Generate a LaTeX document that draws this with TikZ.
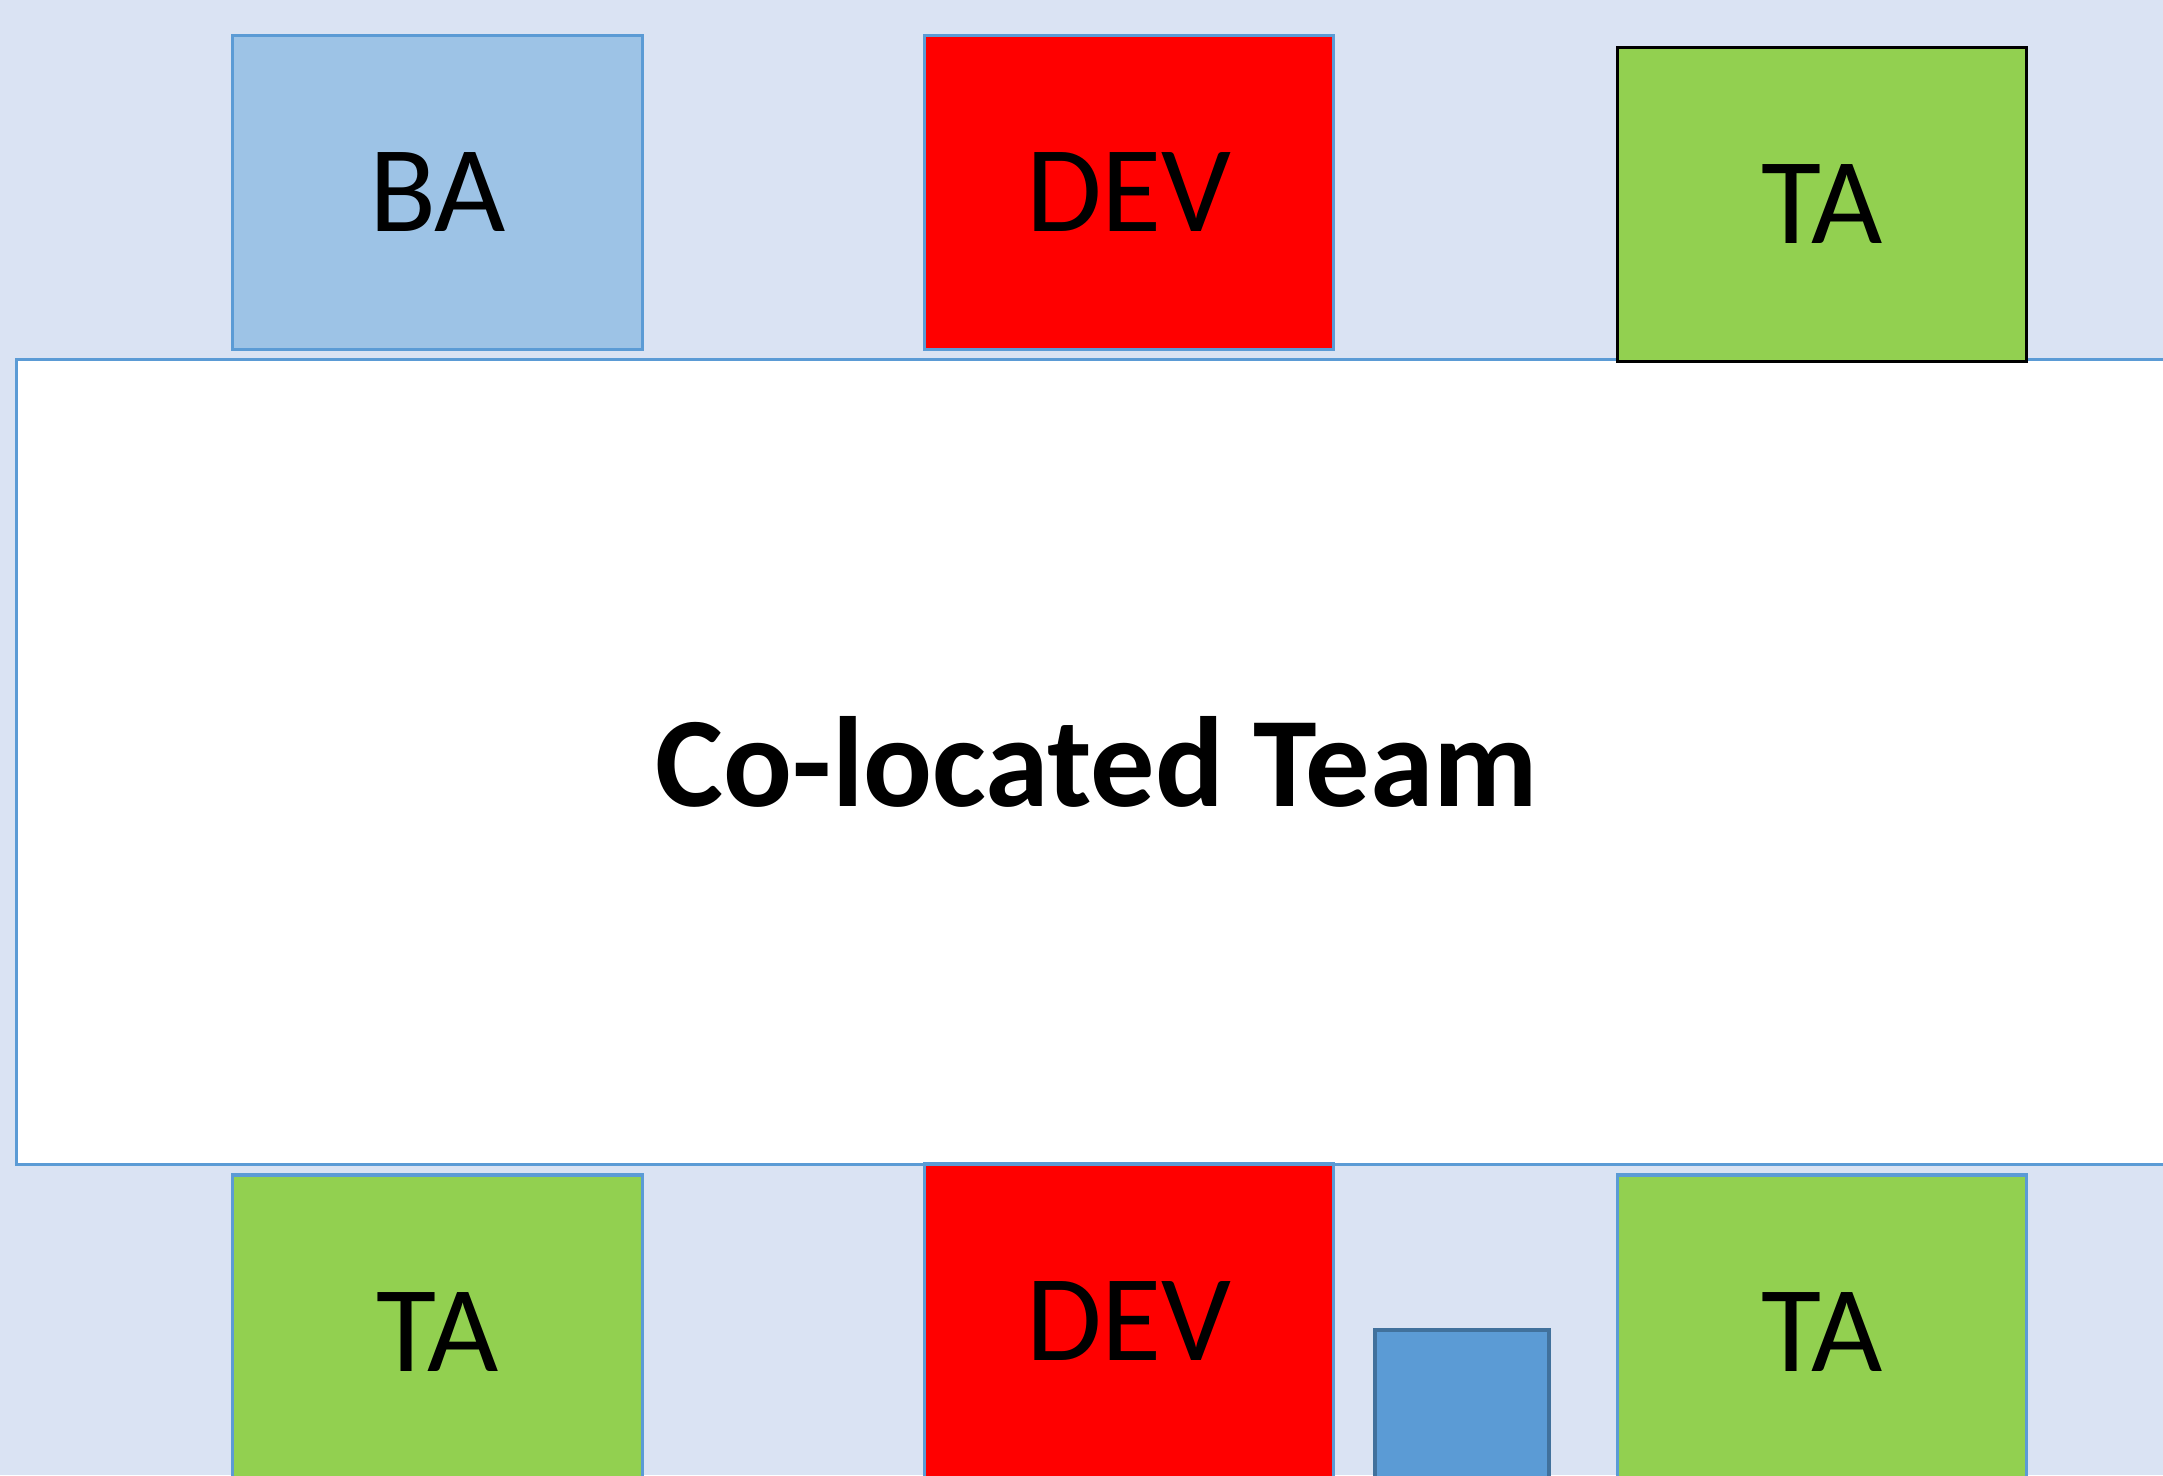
\documentclass[tikz,border=0pt]{standalone}
\usepackage{fontspec}
\setmainfont{Carlito}
\definecolor{roomBg}{HTML}{DAE3F3}
\definecolor{baFill}{HTML}{9DC3E6}
\definecolor{edgeBlue}{HTML}{5B9BD5}
\definecolor{deskBlue}{HTML}{5B9BD5}
\definecolor{deskEdge}{HTML}{41719C}
\definecolor{taFill}{HTML}{92D050}
\definecolor{devFill}{HTML}{FF0000}
\tikzset{
  seat/.style={draw=edgeBlue, line width=0.9pt, minimum width=4.09cm, minimum height=3.13cm,
    inner sep=0pt, font=\fontsize{35}{40}\selectfont},
  ba/.style={seat, fill=baFill},
  dev/.style={seat, fill=devFill},
  ta/.style={seat, fill=taFill},
  table/.style={draw=edgeBlue, fill=white, line width=0.9pt, minimum width=21.6cm,
    minimum height=8.04cm, inner sep=0pt, font=\bfseries\fontsize{36.5}{40}\selectfont}
}

\begin{document}
\begin{tikzpicture}[x=0.01cm, y=-0.01cm]
  \clip (0,0) rectangle (2163,1475);
  \fill[roomBg] (0,0) rectangle (2163,1475);

  \node [ba] (ba) at (437.5,192.5) {BA};
  \node [dev] (devtop) at (1129,192.5) {DEV};

  \node [table] (team) at (1097,762) {Co-located Team};

  \node [ta, draw=black] (tatop) at (1822,204.5) {TA};

  \node [ta] (taleft) at (437.5,1331.5) {TA};
  \node [dev] (devbot) at (1129,1320.5) {DEV};
  \node [ta] (taright) at (1822,1331.5) {TA};
  \node [draw=deskEdge, fill=deskBlue, line width=0.9pt, minimum width=1.74cm,
    minimum height=1.74cm, inner sep=0pt] (desk) at (1462,1417) {};
\end{tikzpicture}
\end{document}
